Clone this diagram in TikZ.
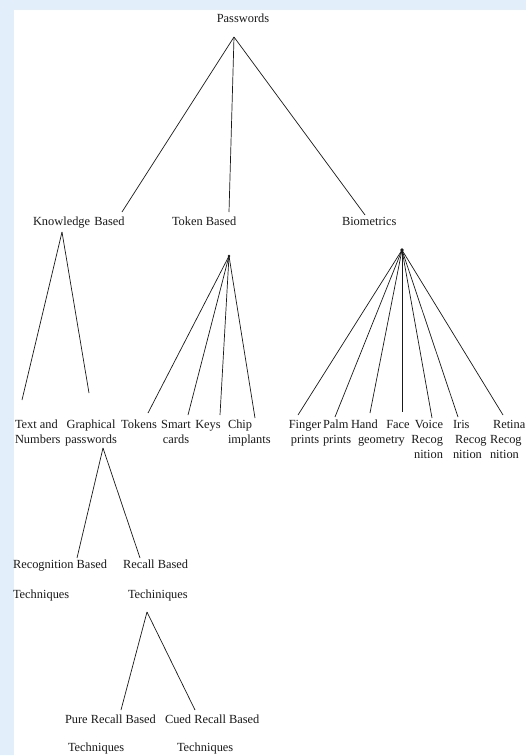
\documentclass[tikz,border=0pt]{standalone}
\usepackage{fontspec}
\setmainfont{Liberation Serif}
\definecolor{bgtint}{RGB}{226,238,250}
\definecolor{ink}{RGB}{25,25,25}
\begin{document}
\begin{tikzpicture}[x=1pt,y=-1pt,
  lbl/.style={inner sep=0pt,outer sep=0pt,text=ink,font=\fontsize{12.4}{15}\selectfont},
  lbl2/.style={lbl,font=\fontsize{12.4}{30}\selectfont},
  lbl3/.style={lbl,font=\fontsize{12.4}{28}\selectfont},
  branch/.style={draw=ink,line width=0.7pt},
  hub/.style={fill=ink}]
% background
\fill[bgtint] (0,0) rectangle (526,755);
\fill[white] (14,10) rectangle (526,755);
\useasboundingbox (0,0) rectangle (526,755);

% labels
\node[lbl,anchor=north] (pw) at (243,14) {Passwords};
\node[lbl,anchor=north west] (kb) at (33,217) {Knowledge\,\,Based};
\node[lbl,anchor=north west] (tb) at (172,217) {Token Based};
\node[lbl,anchor=north west] (bio) at (342,217) {Biometrics};

\node[lbl,anchor=north west,align=left] (txt) at (15,420) {Text and\\Numbers};
\node[lbl,anchor=north,align=center] (gp) at (91,420) {Graphical\\passwords};
\node[lbl,anchor=north] (tok) at (139,420) {Tokens};
\node[lbl,anchor=north,align=center] (smart) at (176,420) {Smart\\cards};
\node[lbl,anchor=north] (keys) at (208,420) {Keys};
\node[lbl,anchor=north west,align=left] (chip) at (228,420) {Chip\\implants};

\node[lbl,anchor=north,align=center] (fin) at (305,420) {Finger\\prints};
\node[lbl,anchor=north west,align=left] (palm) at (323,420) {Palm\\prints};
\node[lbl,anchor=north west,align=left] (hand) at (351,420) {Hand\\\hspace*{7pt}geometry};
\node[lbl,anchor=north] (face) at (398,420) {Face};
\node[lbl,anchor=north east,align=right] (voice) at (443,420) {Voice\\Recog\\nition};
\node[lbl,anchor=north west,align=left] (iris) at (453,420) {Iris\\\hspace*{2pt}Recog\\nition};
\node[lbl,anchor=north west,align=left] (retina) at (490,420) {\hspace*{3pt}Retina\\Recog\\nition};

\node[lbl2,anchor=north west,align=left] (recog) at (13,560) {Recognition Based\\Techniques};
\node[lbl2,anchor=north west,align=left] (recall) at (123,560) {Recall Based\\\hspace*{5pt}Techiniques};
\node[lbl3,anchor=north west,align=left] (pure) at (65,715) {Pure Recall Based\\\hspace*{3pt}Techniques};
\node[lbl3,anchor=north west,align=left] (cued) at (165,715) {Cued Recall Based\\\hspace*{12pt}Techniques};

% junction points
\coordinate (pwA) at (234,37);
\coordinate (kbE) at (122,212);
\coordinate (tbE) at (229,212);
\coordinate (bioE) at (365,215);

\coordinate (kbA) at (62,232);
\coordinate (txtE) at (22,400);
\coordinate (gpE) at (89,393);

\coordinate (tbA) at (229,256);
\coordinate (tokE) at (148,413);
\coordinate (smartE) at (188,415);
\coordinate (keysE) at (220,415);
\coordinate (chipE) at (255,418);

\coordinate (bioA) at (402,250);
\coordinate (finE) at (298,415);
\coordinate (palmE) at (335,417);
\coordinate (handE) at (370,413);
\coordinate (faceE) at (402,412);
\coordinate (voiceE) at (432,418);
\coordinate (irisE) at (458,417);
\coordinate (retinaE) at (503,415);

\coordinate (gpA) at (103,448);
\coordinate (recogE) at (77,558);
\coordinate (recallE) at (140,558);

\coordinate (recallA) at (147,612);
\coordinate (pureE) at (121,710);
\coordinate (cuedE) at (195,710);

% connectors
\draw[branch] (pwA) -- (kbE);
\draw[branch] (pwA) -- (tbE);
\draw[branch] (pwA) -- (bioE);

\draw[branch] (kbA) -- (txtE);
\draw[branch] (kbA) -- (gpE);

\draw[branch] (tbA) -- (tokE);
\draw[branch] (tbA) -- (smartE);
\draw[branch] (tbA) -- (keysE);
\draw[branch] (tbA) -- (chipE);
\fill[hub] (tbA) circle (1.3);

\draw[branch] (bioA) -- (finE);
\draw[branch] (bioA) -- (palmE);
\draw[branch] (bioA) -- (handE);
\draw[branch] (bioA) -- (faceE);
\draw[branch] (bioA) -- (voiceE);
\draw[branch] (bioA) -- (irisE);
\draw[branch] (bioA) -- (retinaE);
\fill[hub] (bioA) circle (1.8);

\draw[branch] (gpA) -- (recogE);
\draw[branch] (gpA) -- (recallE);

\draw[branch] (recallA) -- (pureE);
\draw[branch] (recallA) -- (cuedE);
\end{tikzpicture}
\end{document}
